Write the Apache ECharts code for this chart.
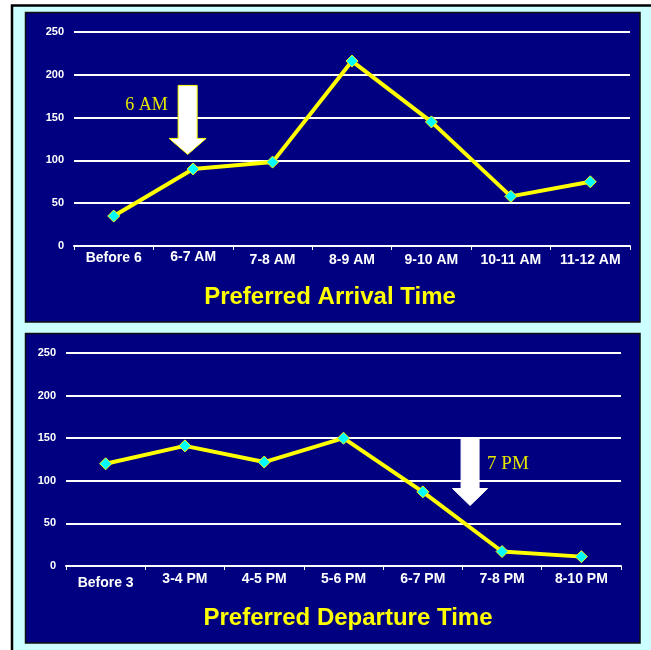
<!DOCTYPE html>
<html><head><meta charset="utf-8">
<script src="https://cdn.jsdelivr.net/npm/echarts@6/dist/echarts.min.js"></script>
<style>html,body{margin:0;padding:0;background:#fff;overflow:hidden}#c{width:651px;height:650px}</style>
</head><body><div id="c"></div>
<script>
// ---- data ----
const arrivalCategories = ['Before 6', '6-7 AM', '7-8 AM', '8-9 AM', '9-10 AM', '10-11 AM', '11-12 AM'];
const arrivalValues = [35, 90, 98, 216, 145, 58, 75];
const departureCategories = ['Before 3', '3-4 PM', '4-5 PM', '5-6 PM', '6-7 PM', '7-8 PM', '8-10 PM'];
const departureValues = [120, 141, 122, 150, 87, 17, 11];
const yTickValues = [0, 50, 100, 150, 200, 250];
const chartTitles = ['Preferred Arrival Time', 'Preferred Departure Time'];
const arrowLabels = ['6 AM', '7 PM'];
const arrowCategories = ['6-7 AM', '7-8 PM'];
const arrowTipValues = [107, 71];

// ---- styling / layout ----
const NAVY = '#000080', YELLOW = '#ffff00', CYAN = '#00ffff';
const SANS = '"Liberation Sans", Arial, sans-serif';
const SERIF = '"Liberation Serif", "Times New Roman", serif';
const grids = [
  { left: 74, right: 21, top: 32, height: 214 },
  { left: 66, right: 30, top: 353, height: 213 }
];
const titlePos = [{ x: 330, y: 297 }, { x: 348, y: 618 }];
// per-label vertical nudges (px) as in the reference's staggered labels
const labelNudge = [[-1, -2, 1, 1, 1, 1, 1], [4, 0, 0, 0, 0, 0, 0]];

const chart = echarts.init(document.getElementById('c'), null, { renderer: 'canvas' });

function xAxisFor(i, cats) {
  return {
    type: 'category', gridIndex: i, boundaryGap: true,
    data: cats.map((c, k) => ({ value: c, textStyle: { padding: [Math.max(0, labelNudge[i][k] + 2), 0, 0, 0] } })),
    axisLine: { show: true, lineStyle: { color: '#fff', width: 2 } },
    axisTick: { show: true, length: 4, lineStyle: { color: '#fff', width: 1 } },
    axisLabel: { color: '#fff', fontFamily: SANS, fontWeight: 'bold', fontSize: 14, margin: 4, interval: 0 },
    splitLine: { show: false }
  };
}
function yAxisFor(i) {
  return {
    type: 'value', gridIndex: i, min: yTickValues[0], max: yTickValues[yTickValues.length - 1],
    interval: yTickValues[1] - yTickValues[0],
    axisLine: { show: false }, axisTick: { show: false },
    axisLabel: { color: '#fff', fontFamily: SANS, fontWeight: 'bold', fontSize: 11, margin: 10 },
    splitLine: { show: true, lineStyle: { color: '#fff', width: 2 } }
  };
}
function seriesFor(i, vals) {
  return {
    type: 'line', xAxisIndex: i, yAxisIndex: i, data: vals,
    lineStyle: { color: YELLOW, width: 4 },
    symbol: 'diamond', symbolSize: 12,
    itemStyle: { color: CYAN, borderColor: YELLOW, borderWidth: 1 },
    emphasis: { disabled: true }, animation: false, z: 5
  };
}

const bgElements = [
  { type: 'rect', z: -100, shape: { x: 12, y: 5.5, width: 700, height: 700 },
    style: { fill: '#ccffff', stroke: '#000', lineWidth: 2.5 } },
  { type: 'rect', z: -90, shape: { x: 25.5, y: 12.5, width: 614.5, height: 309.5 },
    style: { fill: NAVY, stroke: '#111', lineWidth: 1.5 } },
  { type: 'rect', z: -90, shape: { x: 25.5, y: 333.5, width: 614.5, height: 309.5 },
    style: { fill: NAVY, stroke: '#111', lineWidth: 1.5 } }
];

chart.setOption({
  animation: false,
  grid: grids.map(g => Object.assign({ containLabel: false }, g)),
  title: chartTitles.map((t, i) => ({
    text: t, left: titlePos[i].x, top: titlePos[i].y, padding: 0,
    textAlign: 'center', textVerticalAlign: 'middle',
    textStyle: { color: YELLOW, fontFamily: SANS, fontWeight: 'bold', fontSize: 24 }
  })),
  xAxis: [xAxisFor(0, arrivalCategories), xAxisFor(1, departureCategories)],
  yAxis: [yAxisFor(0), yAxisFor(1)],
  series: [seriesFor(0, arrivalValues), seriesFor(1, departureValues)],
  graphic: { elements: bgElements }
});

// ---- arrow annotations, anchored to data coordinates ----
const arrowSpec = [
  { dx: -5.5, shaftHalf: 9.5, headHalf: 18.5, headLen: 16, length: 69, stroke: YELLOW,
    text: { fontSize: 18, align: 'right', dx: -20, dy: -49 } },
  { dx: -32, shaftHalf: 9, headHalf: 17.5, headLen: 17, length: 68, stroke: null,
    text: { fontSize: 19, align: 'left', dx: 17, dy: -41 } }
];
const arrowEls = [];
arrowCategories.forEach((cat, i) => {
  const p = chart.convertToPixel({ xAxisIndex: i, yAxisIndex: i }, [cat, arrowTipValues[i]]);
  const s = arrowSpec[i];
  const tx = p[0] + s.dx, ty = p[1];
  const top = ty - s.length, hb = ty - s.headLen;
  arrowEls.push({
    type: 'polygon', z: 50,
    shape: { points: [
      [tx - s.shaftHalf, top], [tx + s.shaftHalf, top], [tx + s.shaftHalf, hb], [tx + s.headHalf, hb],
      [tx, ty], [tx - s.headHalf, hb], [tx - s.shaftHalf, hb]
    ] },
    style: { fill: '#fff', stroke: s.stroke || '#fff', lineWidth: 1 }
  });
  arrowEls.push({
    type: 'text', z: 50,
    x: tx + s.text.dx, y: ty + s.text.dy,
    style: { text: arrowLabels[i], fill: '#e6e600', font: s.text.fontSize + 'px ' + SERIF,
      textAlign: s.text.align, textVerticalAlign: 'middle' }
  });
});
chart.setOption({ graphic: { elements: bgElements.concat(arrowEls) } }, { replaceMerge: ['graphic'] });
</script></body></html>
